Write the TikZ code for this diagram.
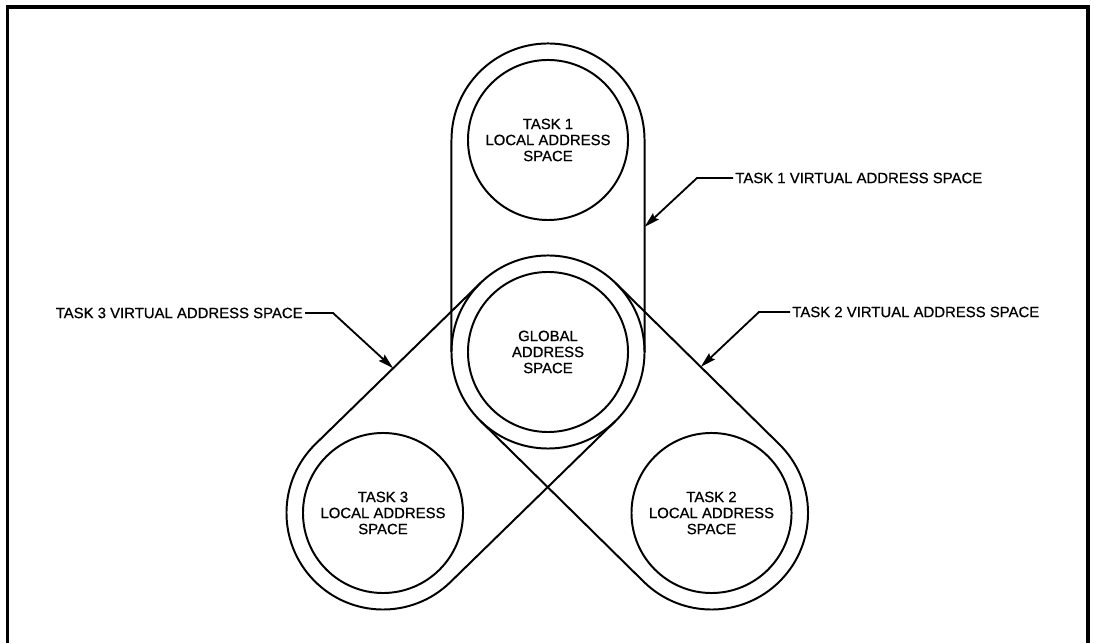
\documentclass[tikz,border=0pt]{standalone}
\usepackage{fontspec}
\setmainfont{Liberation Sans}
\newfontfamily\platefont{Liberation Sans}[FakeBold=0.7]
\usetikzlibrary{arrows.meta,positioning,calc}

\begin{document}
\begin{tikzpicture}[x=0.025cm, y=0.025cm,
  space/.style={circle, draw, line width=1.4pt, minimum size=4cm, inner sep=0pt,
                font=\platefont\fontsize{10.6}{11.4}\selectfont, align=center},
  hull/.style={draw, line width=1.4pt},
  lbl/.style={font=\platefont\fontsize{10.6}{12}\selectfont, inner sep=1.5pt},
  lead/.style={draw, line width=1.3pt, -{Stealth[length=11pt,width=6pt,inset=1.5pt]}},
]
\useasboundingbox (0,0) rectangle (1095,643);
% frame
\draw[line width=2.2pt] (7.5,0) -- (7.5,636) -- (1088,636) -- (1088,0);

% address spaces
\node[space] (glob) at (548,291) {GLOBAL\\ADDRESS\\SPACE};
\node[space] (t1) at (548,503) {TASK 1\\LOCAL ADDRESS\\SPACE};
\node[space] (t2) at (711.5,130) {TASK 2\\LOCAL ADDRESS\\SPACE};
\node[space] (t3) at (383,130) {TASK 3\\LOCAL ADDRESS\\SPACE};

% virtual address spaces
\def\ro{2.4125cm}
\draw[hull] (glob.center) circle (\ro);
\draw[hull] ($(glob.center)+(180:\ro)$) -- ($(t1.center)+(180:\ro)$) arc (180:0:\ro)
  -- coordinate[pos=0.41] (p1) ($(glob.center)+(0:\ro)$);
\draw[hull] ($(glob.center)+(45.44:\ro)$) -- coordinate[pos=0.52] (p2) ($(t2.center)+(45.44:\ro)$)
  arc (45.44:-134.56:\ro) -- ($(glob.center)+(-134.56:\ro)$);
\draw[hull] ($(glob.center)+(134.3:\ro)$) -- coordinate[pos=0.53] (p3) ($(t3.center)+(134.3:\ro)$)
  arc (134.3:314.3:\ro) -- ($(glob.center)+(314.3:\ro)$);

% labels
\node[lbl, anchor=west] (l1) at (733,465) {TASK 1 VIRTUAL ADDRESS SPACE};
\node[lbl, anchor=west] (l2) at (790,331) {TASK 2 VIRTUAL ADDRESS SPACE};
\node[lbl, anchor=east] (l3) at (305,330) {TASK 3 VIRTUAL ADDRESS SPACE};
\coordinate (e1) at (697,465);
\coordinate (e2) at (759,331);
\coordinate (e3) at (333,330);
\draw[lead] (l1.west) -- (e1) -- (p1);
\draw[lead] (l2.west) -- (e2) -- (p2);
\draw[lead] (l3.east) -- (e3) -- (p3);
\end{tikzpicture}
\end{document}
